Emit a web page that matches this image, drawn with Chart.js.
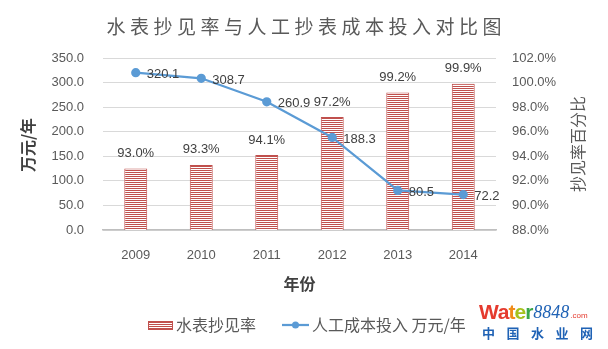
<!DOCTYPE html>
<html><head><meta charset="utf-8">
<script src="https://cdn.jsdelivr.net/npm/chart.js@4"></script>
<style>html,body{margin:0;padding:0;background:#fff;overflow:hidden}</style>
</head><body>
<canvas id="c" width="608" height="349"></canvas>
<script>
// ---- data ----
const years = ['2009', '2010', '2011', '2012', '2013', '2014'];
const readRate = [93.0, 93.3, 94.1, 97.2, 99.2, 99.9];        // 水表抄见率 (%)
const laborCost = [320.1, 308.7, 260.9, 188.3, 80.5, 72.2];   // 人工成本投入 万元/年
const leftAxisRange = [0, 350, 50];
const rightAxisRange = [88, 102, 2];
const chartTitle = '水表抄见率与人工抄表成本投入对比图';
const xTitle = '年份';
const leftTitle = '万元/年';
const rightTitle = '抄见率百分比';
const barName = '水表抄见率';
const lineName = '人工成本投入 万元/年';

// ---- styles ----
const RED = '#c0504d', BLUE = '#5b9bd5', GRAY = '#595959', DARK = '#404040';
const CJK = '"Noto Sans CJK SC", "Noto Sans", sans-serif';
const NUM = '"Liberation Sans", Arial, sans-serif';

const canvas = document.getElementById('c');
const ctx = canvas.getContext('2d');
const pc = document.createElement('canvas'); pc.width = 4; pc.height = 2;
const pctx = pc.getContext('2d');
pctx.fillStyle = '#ffffff'; pctx.fillRect(0, 0, 4, 2);
pctx.fillStyle = RED; pctx.fillRect(0, 0, 4, 1);
const hatch = ctx.createPattern(pc, 'repeat');

const deco = {
  id: 'deco',
  afterDatasetsDraw(chart) {
    const c = chart.ctx;
    c.save();
    c.fillStyle = DARK;
    c.font = '13px ' + NUM;
    c.textBaseline = 'middle';
    c.textAlign = 'center';
    chart.getDatasetMeta(0).data.forEach((el, i) => {
      c.fillText(readRate[i].toFixed(1) + '%', el.x, el.y - 15);
    });
    c.textAlign = 'left';
    chart.getDatasetMeta(1).data.forEach((el, i) => {
      c.fillText(laborCost[i].toFixed(1), el.x + 11, el.y + 2);
    });
    c.restore();
  },
  afterDraw(chart) {
    const c = chart.ctx;
    const a = chart.chartArea;
    c.save();
    // title
    c.fillStyle = GRAY;
    c.font = '19px ' + CJK;
    c.textBaseline = 'middle';
    c.textAlign = 'left';
    c.letterSpacing = '4.5px';
    const tw = c.measureText(chartTitle).width - 4.5;
    c.fillText(chartTitle, 304 - tw / 2, 27);
    c.letterSpacing = '0px';
    // x title
    c.fillStyle = DARK;
    c.font = 'bold 16px ' + CJK;
    c.textAlign = 'center';
    c.fillText(xTitle, (a.left + a.right) / 2, 284);
    // left title
    c.save();
    c.translate(28, (a.top + a.bottom) / 2 + 1);
    c.rotate(-Math.PI / 2);
    c.fillText(leftTitle, 0, 0);
    c.restore();
    // right title
    c.save();
    c.fillStyle = GRAY;
    c.font = '16px ' + CJK;
    c.translate(578, (a.top + a.bottom) / 2);
    c.rotate(-Math.PI / 2);
    c.fillText(rightTitle, 0, 0);
    c.restore();
    // legend
    const ly = 325;
    c.fillStyle = hatch;
    c.fillRect(148, 321, 25, 9);
    c.strokeStyle = RED; c.lineWidth = 1;
    c.strokeRect(148.5, 321.5, 24, 8);
    c.fillStyle = GRAY;
    c.font = '16px ' + CJK;
    c.textAlign = 'left';
    c.fillText(barName, 176, ly);
    c.strokeStyle = BLUE; c.lineWidth = 2.25;
    c.beginPath(); c.moveTo(282, ly); c.lineTo(309, ly); c.stroke();
    c.fillStyle = BLUE;
    c.beginPath(); c.arc(295.5, ly, 3.5, 0, Math.PI * 2); c.fill();
    c.fillStyle = GRAY;
    c.fillText(lineName, 312, ly);
    // watermark
    const wm = [['W', '#e53a2e'], ['a', '#e53a2e'], ['t', '#f08c1a'], ['e', '#a5c21d'], ['r', '#3aa74a']];
    c.font = 'bold 21px ' + NUM;
    c.textBaseline = 'alphabetic';
    c.letterSpacing = '-1px';
    let x = 479;
    wm.forEach(([ch, col]) => { c.fillStyle = col; c.fillText(ch, x, 319); x += c.measureText(ch).width; });
    c.fillStyle = '#1f62b5';
    c.font = 'italic 18px "Liberation Serif", serif';
    c.letterSpacing = '0px';
    c.fillText('8848', x + 1, 318);
    x += c.measureText('8848').width + 2;
    c.fillStyle = '#e53a2e';
    c.font = '8px ' + NUM;
    c.fillText('.com', x, 318);
    c.fillStyle = '#1f62b5';
    c.font = 'bold 13px ' + CJK;
    c.letterSpacing = '11.5px';
    c.textBaseline = 'middle';
    c.fillText('中国水业网', 482, 333);
    c.restore();
  }
};

new Chart(canvas, {
  type: 'bar',
  data: {
    labels: years,
    datasets: [
      {
        type: 'bar', label: barName, data: readRate, yAxisID: 'y1', order: 1,
        backgroundColor: hatch, borderColor: RED, borderWidth: 1,
        barPercentage: 0.35, categoryPercentage: 1.0
      },
      {
        type: 'line', label: lineName, data: laborCost, yAxisID: 'y', order: 0,
        borderColor: BLUE, backgroundColor: BLUE, borderWidth: 2.25,
        pointRadius: 3.5, pointBackgroundColor: BLUE, pointBorderColor: BLUE,
        tension: 0, fill: false
      }
    ]
  },
  options: {
    responsive: false,
    animation: false,
    devicePixelRatio: 1,
    layout: { padding: { top: 58, left: 0, right: 0, bottom: 0 } },
    plugins: { legend: { display: false }, title: { display: false }, tooltip: { enabled: false } },
    scales: {
      x: {
        grid: { display: false, drawTicks: false },
        border: { display: true, color: '#bfbfbf', width: 1.5 },
        ticks: { color: GRAY, font: { family: NUM, size: 13 }, padding: 18 },
        afterFit(s) { s.height = 119; }
      },
      y: {
        position: 'left', min: leftAxisRange[0], max: leftAxisRange[1],
        grid: { color: '#d9d9d9', drawTicks: false },
        border: { display: false },
        ticks: { stepSize: leftAxisRange[2], color: GRAY, font: { family: NUM, size: 13 }, padding: 19,
                 callback: v => Number(v).toFixed(1) },
        afterFit(s) { s.width = 103; }
      },
      y1: {
        position: 'right', min: rightAxisRange[0], max: rightAxisRange[1],
        grid: { display: false, drawTicks: false },
        border: { display: false },
        ticks: { stepSize: rightAxisRange[2], color: GRAY, font: { family: NUM, size: 13 }, padding: 16,
                 callback: v => Number(v).toFixed(1) + '%' },
        afterFit(s) { s.width = 112; }
      }
    }
  },
  plugins: [deco]
});
</script>
</body></html>
